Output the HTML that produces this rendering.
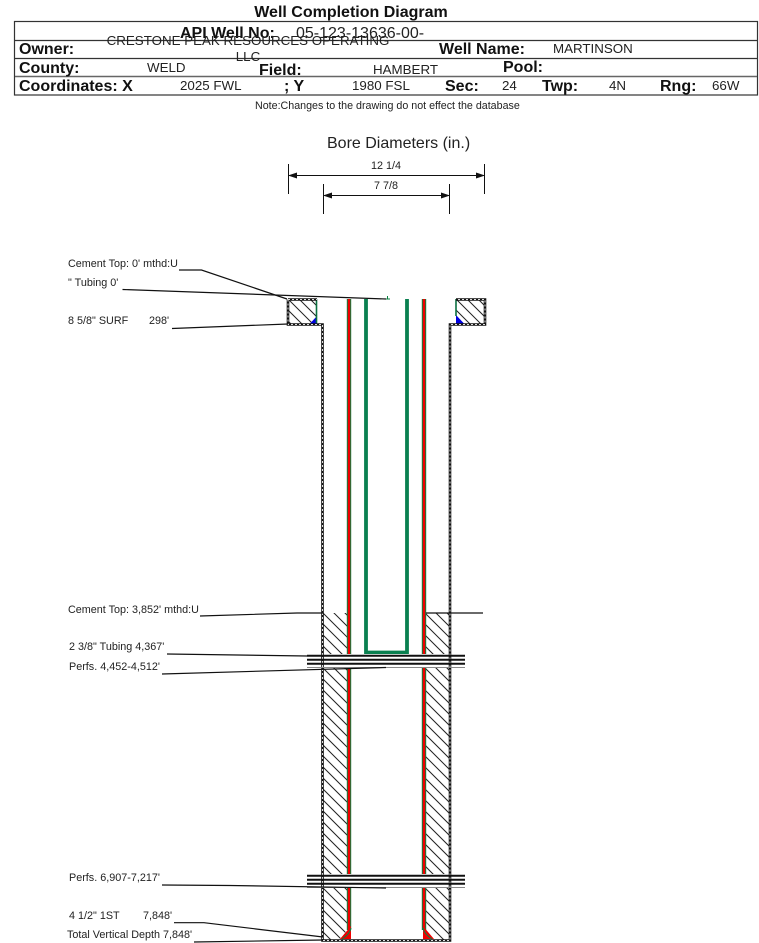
<!DOCTYPE html>
<html><head><meta charset="utf-8"><style>
html,body{margin:0;padding:0;background:#fff}
svg{display:block}
text{font-family:"Liberation Sans",sans-serif;fill:#111}
.b{font-weight:bold;font-size:16px}
.v{font-size:13.35px;fill:#222}
.l{font-size:10.8px;fill:#222}
</style></head><body>
<svg width="759" height="943" viewBox="0 0 759 943" xmlns="http://www.w3.org/2000/svg">
<defs>
<marker id="a" markerWidth="9" markerHeight="6" refX="8" refY="3" orient="auto-start-reverse"><path d="M0 0L9 3L0 6Z" fill="#111"/></marker>
<clipPath id="cL"><path d="M323 613H348V925Q346 935 338 940H323Z"/></clipPath>
<clipPath id="cR"><path d="M425 613H450V940H436Q426 935 425 925Z"/></clipPath>
<clipPath id="c1"><rect x="288" y="300" width="29" height="24"/></clipPath>
<clipPath id="c2"><rect x="456" y="300" width="29" height="24"/></clipPath>
</defs>
<!-- header -->
<text x="351" y="17" text-anchor="middle" class="b">Well Completion Diagram</text>
<g fill="none" stroke="#333" stroke-width="1.2">
<rect x="14.5" y="21.5" width="743" height="73.5"/>
<path d="M15 40.5H757M15 58.5H757"/>
</g>
<path d="M15 76.5H757" stroke="#666" stroke-width="1.6"/>
<text x="180" y="38" class="b">API Well No:</text>
<text x="296" y="38" style="font-size:16px;fill:#222">05-123-13636-00-</text>
<text x="248" y="45" text-anchor="middle" class="v">CRESTONE PEAK RESOURCES OPERATING</text>
<text x="248" y="61" text-anchor="middle" class="v">LLC</text>
<text x="19" y="54" class="b">Owner:</text>
<text x="439" y="54" class="b">Well Name:</text>
<text x="553" y="53" class="v">MARTINSON</text>
<text x="19" y="73" class="b">County:</text>
<text x="147" y="72" class="v">WELD</text>
<text x="259" y="75" class="b">Field:</text>
<text x="373" y="74" class="v">HAMBERT</text>
<text x="503" y="72" class="b">Pool:</text>
<text x="19" y="91" class="b">Coordinates: X</text>
<text x="180" y="90" class="v">2025 FWL</text>
<text x="284" y="91" class="b">; Y</text>
<text x="352" y="90" class="v">1980 FSL</text>
<text x="445" y="91" class="b">Sec:</text>
<text x="502" y="90" class="v">24</text>
<text x="542" y="91" class="b">Twp:</text>
<text x="609" y="90" class="v">4N</text>
<text x="660" y="91" class="b">Rng:</text>
<text x="712" y="90" class="v">66W</text>
<text x="255" y="109" style="font-size:10.7px;fill:#222">Note:Changes to the drawing do not effect the database</text>
<!-- bore -->
<text x="327" y="148" style="font-size:16px;fill:#222">Bore Diameters (in.)</text>
<text x="386" y="169" text-anchor="middle" class="l">12 1/4</text>
<text x="386" y="189" text-anchor="middle" class="l">7 7/8</text>
<g stroke="#111" stroke-width="1" fill="none">
<path d="M288.5 164V194M484.5 164V194M323.5 184V214M449.5 184V214"/>
<path d="M289 175.5H484" marker-start="url(#a)" marker-end="url(#a)"/>
<path d="M324 195.5H449" marker-start="url(#a)" marker-end="url(#a)"/>
</g>
<!-- cement hatch -->
<g stroke="#222" stroke-width="1" fill="none">
<path clip-path="url(#c1)" d="M288 277l30 30M288 288l30 30M288 299l30 30M288 310l30 30M288 321l30 30"/>
<path clip-path="url(#c2)" d="M456 277l30 30M456 288l30 30M456 299l30 30M456 310l30 30M456 321l30 30"/>
<path clip-path="url(#cL)" d="M323 591l25 25M323 602l25 25M323 613l25 25M323 624l25 25M323 635l25 25M323 646l25 25M323 657l25 25M323 668l25 25M323 679l25 25M323 690l25 25M323 701l25 25M323 712l25 25M323 723l25 25M323 734l25 25M323 745l25 25M323 756l25 25M323 767l25 25M323 778l25 25M323 789l25 25M323 800l25 25M323 811l25 25M323 822l25 25M323 833l25 25M323 844l25 25M323 855l25 25M323 866l25 25M323 877l25 25M323 888l25 25M323 899l25 25M323 910l25 25M323 921l25 25M323 932l25 25"/>
<path clip-path="url(#cR)" d="M425 591l25 25M425 602l25 25M425 613l25 25M425 624l25 25M425 635l25 25M425 646l25 25M425 657l25 25M425 668l25 25M425 679l25 25M425 690l25 25M425 701l25 25M425 712l25 25M425 723l25 25M425 734l25 25M425 745l25 25M425 756l25 25M425 767l25 25M425 778l25 25M425 789l25 25M425 800l25 25M425 811l25 25M425 822l25 25M425 833l25 25M425 844l25 25M425 855l25 25M425 866l25 25M425 877l25 25M425 888l25 25M425 899l25 25M425 910l25 25M425 921l25 25M425 932l25 25"/>
</g>
<path d="M310 323.5L317 316V323.5ZM456 315L464 323.5H456Z" fill="#0000e0"/>
<path d="M316.5 299V323M456 299V316" stroke="#0a7040" stroke-width="1.6" fill="none"/>
<!-- casing -->
<path d="M349 299V930M424 299V930" stroke="#0a8040" stroke-width="4.4" fill="none"/>
<path d="M349 299V930M424 299V930" stroke="#f00000" stroke-width="2.4" fill="none"/>
<path d="M351 926V939H340ZM423 926V939H434Z" fill="#f00000"/>
<path d="M351 928Q350 934 342 939M423 928Q424 934 432 939" stroke="#0a8040" stroke-width="1" fill="none"/>
<!-- tubing -->
<path d="M366 299V652.5H407V299" stroke="#0a8050" stroke-width="3.8" fill="none"/>
<path d="M387.5 296V299M385 299H390" stroke="#0a8040" stroke-width="1" fill="none"/>
<!-- perf white bands -->
<rect x="307" y="654" width="158" height="14" fill="#fff"/>
<rect x="307" y="874" width="158" height="14" fill="#fff"/>
<!-- well walls -->
<g fill="none" stroke-linejoin="miter">
<path d="M288 299.5H317M288 299.5V324.5H322.5V940.5H450V324.5H485V299.5H456" stroke="#111" stroke-width="2.6"/>
<path d="M288 299.5H317M288 299.5V324.5H322.5V940.5H450V324.5H485V299.5H456" stroke="#ddd" stroke-width="1" stroke-dasharray="2 2"/>
</g>
<!-- perf lines -->
<g stroke="#111" fill="none">
<path d="M307 655.7H465M307 659.7H465M307 663.7H465M307 875.7H465M307 879.7H465M307 883.7H465" stroke-width="2"/>
<path d="M307 667.5H465M307 887.5H465" stroke="#888" stroke-width="1"/>
</g>
<!-- leaders -->
<g stroke="#111" stroke-width="1.2" fill="none">
<path d="M179 270H201.5L287 299"/>
<path d="M122.5 289.5L386 299"/>
<path d="M172 328.5L288 324"/>
<path d="M200 616L297 613H323M426 613H483"/>
<path d="M167 654L307 656"/>
<path d="M162 674L386 667.5"/>
<path d="M162 885L230 885.5L386 888"/>
<path d="M174 922.7H204L323 937"/>
<path d="M194 942L323 940"/>
</g>
<!-- labels -->
<text x="68" y="267" class="l">Cement Top: 0' mthd:U</text>
<text x="68" y="286" class="l">" Tubing 0'</text>
<text x="68" y="324" class="l">8 5/8" SURF</text>
<text x="149" y="324" class="l">298'</text>
<text x="68" y="613" class="l">Cement Top: 3,852' mthd:U</text>
<text x="69" y="650" class="l">2 3/8" Tubing 4,367'</text>
<text x="69" y="670" class="l">Perfs. 4,452-4,512'</text>
<text x="69" y="881" class="l">Perfs. 6,907-7,217'</text>
<text x="69" y="919" class="l">4 1/2" 1ST</text>
<text x="143" y="919" class="l">7,848'</text>
<text x="67" y="938" class="l">Total Vertical Depth 7,848'</text>
</svg>
</body></html>
